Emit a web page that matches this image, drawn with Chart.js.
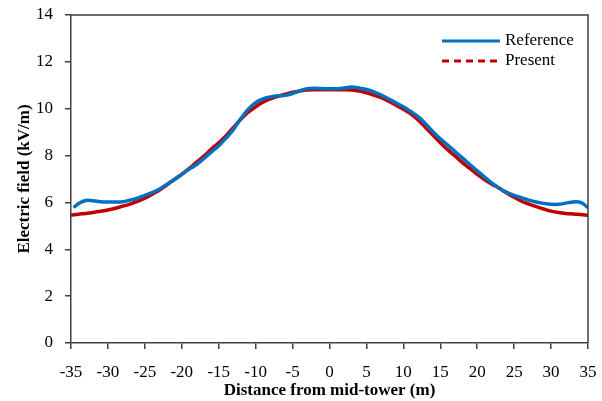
<!DOCTYPE html>
<html>
<head>
<meta charset="utf-8">
<script src="https://cdn.jsdelivr.net/npm/chart.js@4/dist/chart.umd.min.js"></script>
<style>
  html, body { margin: 0; padding: 0; background: #fff; }
  #wrap { width: 602px; height: 401px; }
</style>
</head>
<body>
<div id="wrap"><canvas id="c" width="602" height="401"></canvas></div>
<script>
// ---- data ----
const referenceDistance = [-34.5,-34,-33,-32,-31,-30,-29,-28,-27,-26,-25,-24,-23,-22,-21,-20,-19,-18,-17,-16,-15,-14,-13,-12,-11,-10,-9,-8,-7,-6,-5,-4,-3,-2,-1,0,1,2,3,4,5,6,7,8,9,10,11,12,13,14,15,16,17,18,19,20,21,22,23,24,25,26,27,28,29,30,31,32,33,34,35];
const referenceField = [5.82,5.95,6.08,6.07,6.03,6.02,6.02,6.03,6.10,6.18,6.30,6.42,6.57,6.78,6.98,7.20,7.42,7.62,7.88,8.15,8.42,8.75,9.12,9.58,9.98,10.26,10.42,10.50,10.55,10.57,10.65,10.77,10.85,10.87,10.86,10.85,10.85,10.88,10.93,10.88,10.82,10.72,10.58,10.42,10.25,10.08,9.88,9.66,9.36,9.02,8.72,8.45,8.17,7.90,7.62,7.35,7.08,6.82,6.60,6.43,6.30,6.20,6.10,6.02,5.96,5.92,5.92,5.97,6.02,6.00,5.78];

const presentDistance = [-35,-34,-33,-32,-31,-30,-29,-28,-27,-26,-25,-24,-23,-22,-21,-20,-19,-18,-17,-16,-15,-14,-13,-12,-11,-10,-9,-8,-7,-6,-5,-4,-3,-2,-1,0,1,2,3,4,5,6,7,8,9,10,11,12,13,14,15,16,17,18,19,20,21,22,23,24,25,26,27,28,29,30,31,32,33,34,35];
const presentField = [5.46,5.50,5.53,5.57,5.62,5.68,5.75,5.84,5.93,6.04,6.18,6.35,6.53,6.75,6.98,7.20,7.45,7.72,7.98,8.28,8.55,8.85,9.20,9.55,9.85,10.08,10.28,10.42,10.53,10.62,10.70,10.76,10.80,10.81,10.81,10.81,10.81,10.81,10.80,10.76,10.68,10.58,10.47,10.32,10.15,9.98,9.78,9.52,9.20,8.88,8.55,8.25,7.98,7.70,7.45,7.20,6.97,6.78,6.60,6.40,6.22,6.05,5.93,5.82,5.72,5.63,5.57,5.53,5.51,5.48,5.45];

const seriesLabels = ["Reference", "Present"];
const xTitle = "Distance from mid-tower (m)";
const yTitle = "Electric field (kV/m)";

const toPoints = (xs, ys) => xs.map((x, i) => ({ x: x, y: ys[i] }));

const FONT = "'Liberation Serif', 'Times New Roman', serif";
const AXIS = "#404040";

const boxPlugin = {
  id: 'box',
  afterDraw(chart) {
    const a = chart.chartArea, ctx = chart.ctx;
    ctx.save();
    ctx.strokeStyle = AXIS;
    ctx.lineWidth = 1.5;
    ctx.beginPath();
    ctx.moveTo(a.left, a.top);
    ctx.lineTo(a.right, a.top);
    ctx.lineTo(a.right, a.bottom);
    ctx.stroke();
    ctx.restore();
  }
};

const legendPlugin = {
  id: 'innerLegend',
  afterDraw(chart) {
    const ctx = chart.ctx;
    ctx.save();
    ctx.font = "17px " + FONT;
    ctx.textBaseline = 'middle';
    ctx.fillStyle = '#000';
    chart.data.datasets.forEach((ds, i) => {
      const y = 41 + i * 20;
      ctx.strokeStyle = ds.borderColor;
      ctx.lineWidth = 3;
      ctx.setLineDash(i === 0 ? [] : [7, 5]);
      ctx.beginPath();
      ctx.moveTo(442, y);
      ctx.lineTo(500, y);
      ctx.stroke();
      ctx.setLineDash([]);
      ctx.fillText(ds.label, 505, y);
    });
    ctx.restore();
  }
};

new Chart(document.getElementById('c'), {
  type: 'line',
  data: {
    datasets: [
      {
        label: seriesLabels[0],
        data: toPoints(referenceDistance, referenceField),
        borderColor: '#0070C0',
        borderWidth: 3.5,
        pointRadius: 0,
        tension: 0.4,
        borderCapStyle: 'round',
        borderJoinStyle: 'round'
      },
      {
        label: seriesLabels[1],
        data: toPoints(presentDistance, presentField),
        borderColor: '#C00000',
        borderWidth: 3.5,
        pointRadius: 0,
        tension: 0.4,
        borderCapStyle: 'round',
        borderJoinStyle: 'round'
      }
    ]
  },
  options: {
    responsive: false,
    animation: false,
    devicePixelRatio: 1,
    layout: { padding: { left: 14, right: 14, top: 15, bottom: 0 } },
    plugins: { legend: { display: false }, tooltip: { enabled: false } },
    scales: {
      x: {
        type: 'linear',
        min: -35, max: 35,
        ticks: { stepSize: 5, color: '#000', font: { family: FONT, size: 17 }, padding: 13, maxRotation: 0 },
        grid: { drawOnChartArea: false, drawTicks: true, tickLength: 6, color: AXIS, lineWidth: 1.5 },
        border: { color: AXIS, width: 1.5 },
        title: { display: true, text: xTitle, color: '#000', font: { family: FONT, size: 17, weight: 'bold' }, padding: { top: 3, bottom: 0 } },
        afterFit(s) { s.height = 58; s.paddingLeft = 0; s.paddingRight = 0; }
      },
      y: {
        min: 0, max: 14,
        ticks: { stepSize: 2, color: '#000', font: { family: FONT, size: 17 }, padding: 12 },
        grid: { drawOnChartArea: false, drawTicks: true, tickLength: 6, color: AXIS, lineWidth: 1.5 },
        border: { color: AXIS, width: 1.5 },
        title: { display: true, text: yTitle, color: '#000', font: { family: FONT, size: 17, weight: 'bold' }, padding: { top: 0, bottom: 0 } },
        afterFit(s) { s.width = 57; s.paddingTop = 0; s.paddingBottom = 0; }
      }
    }
  },
  plugins: [boxPlugin, legendPlugin]
});
</script>
</body>
</html>
